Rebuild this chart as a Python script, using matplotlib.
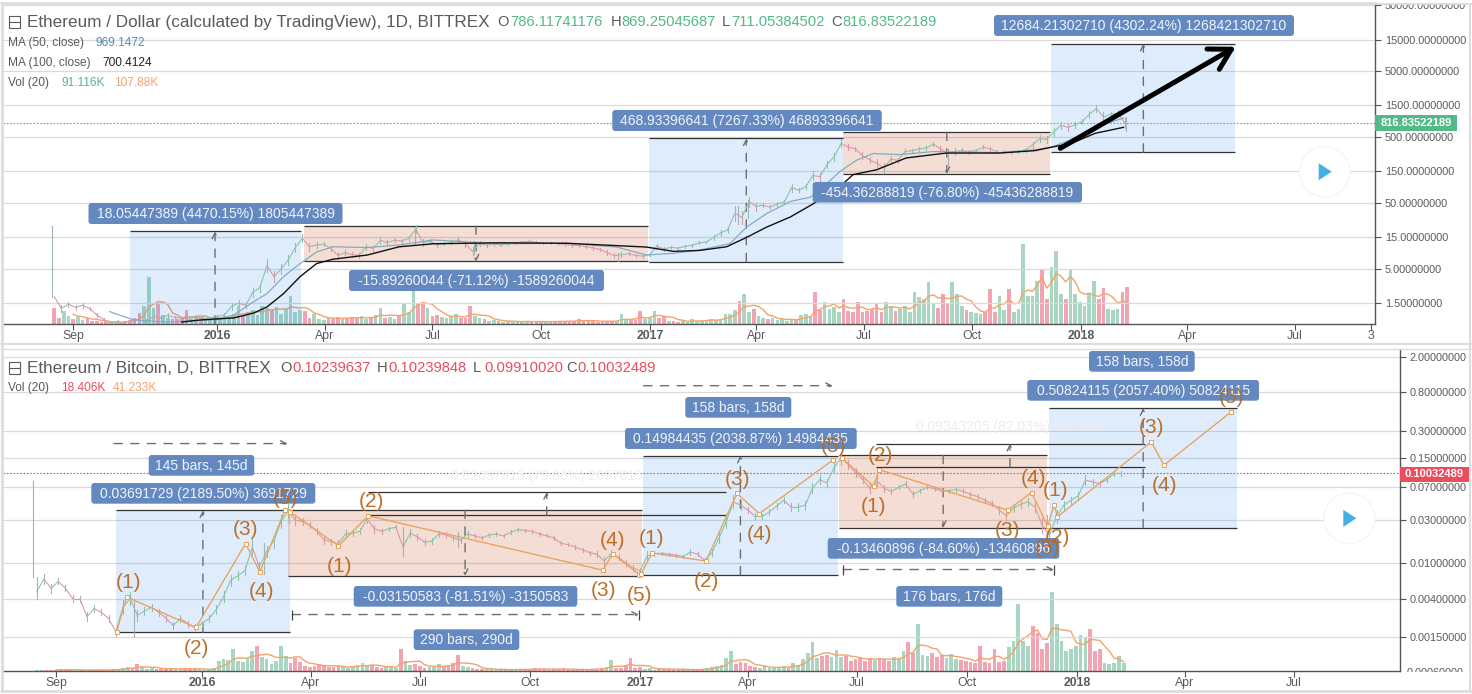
import numpy as np
import matplotlib
matplotlib.use("Agg")
import matplotlib.pyplot as plt
from matplotlib.patches import FancyBboxPatch, Circle, Polygon, Rectangle

plt.rcParams['font.family'] = ['Liberation Sans', 'DejaVu Sans']

W, H = 1472, 694

# ---------- tick data ----------
TOP_XTICKS = [-122, 0, 91, 182, 274, 366, 456, 547, 639, 731, 821, 912, 976]
TOP_XLABELS = ['Sep', '2016', 'Apr', 'Jul', 'Oct', '2017', 'Apr', 'Jul', 'Oct', '2018', 'Apr', 'Jul', '3']
BOT_XTICKS = TOP_XTICKS[:-1]
BOT_XLABELS = TOP_XLABELS[:-1]
TOP_YTICKS = [50000, 15000, 5000, 1500, 500, 150, 50, 15, 5, 1.5]
BOT_YTICKS = [2, 0.8, 0.3, 0.15, 0.07, 0.03, 0.01, 0.004, 0.0015]

# ---------- ETH / USD ----------
usd_close = [
    1.9, 1.25, 1.45, 1.3, 1.4, 1.25, 1.0, 0.85, 0.75, 0.8,
    0.7, 0.68, 0.66, 0.8, 0.95, 0.9, 0.98, 0.92, 0.9, 0.87,
    0.93, 0.88, 0.9, 0.95, 1.0, 1.35, 1.5, 1.4, 2.2, 2.6,
    5.6, 3.8, 5.0, 6.8, 10.5, 14.5, 10.8, 11.5, 11.8, 10.2,
    8.0, 8.8, 8.2, 8.0, 10.8, 10.2, 13.5, 12.5, 13.6, 13.2,
    14.5, 20, 12.5, 13.2, 11.5, 12, 12.6, 13.8, 11.8, 9.2,
    12, 11.4, 11.8, 11.5, 12, 12.3, 12.8, 13, 12.6, 12.2,
    12.4, 12, 11.8, 11.4, 11.3, 10.8, 10.4, 9.8, 8.8, 7.9,
    8.2, 8.5, 8, 7.8, 8.2, 11, 10, 10.6, 10.3, 11,
    11.4, 12.4, 12.8, 15, 17.5, 19.5, 35, 30, 52, 44,
    46, 43, 48, 52, 85, 78, 88, 130, 125, 190,
    250, 400, 350, 330, 260, 225, 200, 170, 230, 220,
    300, 310, 330, 340, 390, 330, 280, 300, 310, 300,
    310, 350, 330, 300, 300, 290, 300, 320, 380, 470,
    460, 600, 750, 700, 760, 850, 1100, 1350, 1000, 1100,
    1150, 820]
# high-to-close ratio of each bar
usd_range = [
    1.10, 1.12, 1.10, 1.08, 1.10, 1.07, 1.08, 1.06, 1.05, 1.05,
    1.05, 1.05, 1.05, 1.08, 1.10, 1.10, 1.08, 1.06, 1.05, 1.05,
    1.06, 1.04, 1.05, 1.05, 1.06, 1.12, 1.12, 1.10, 1.18, 1.15,
    1.25, 1.20, 1.18, 1.20, 1.18, 1.15, 1.14, 1.10, 1.08, 1.10,
    1.12, 1.08, 1.10, 1.08, 1.12, 1.08, 1.12, 1.09, 1.07, 1.06,
    1.08, 1.14, 1.12, 1.08, 1.07, 1.06, 1.07, 1.10, 1.10, 1.15,
    1.10, 1.06, 1.05, 1.05, 1.04, 1.04, 1.05, 1.04, 1.04, 1.04,
    1.04, 1.04, 1.05, 1.05, 1.05, 1.06, 1.06, 1.07, 1.08, 1.10,
    1.08, 1.06, 1.06, 1.07, 1.05, 1.10, 1.08, 1.05, 1.04, 1.05,
    1.05, 1.05, 1.05, 1.08, 1.10, 1.12, 1.30, 1.25, 1.20, 1.15,
    1.08, 1.07, 1.07, 1.08, 1.15, 1.08, 1.10, 1.18, 1.15, 1.14,
    1.15, 1.15, 1.10, 1.08, 1.12, 1.12, 1.15, 1.18, 1.12, 1.08,
    1.10, 1.06, 1.06, 1.08, 1.08, 1.10, 1.18, 1.12, 1.08, 1.07,
    1.06, 1.08, 1.07, 1.06, 1.05, 1.05, 1.06, 1.07, 1.10, 1.14,
    1.12, 1.15, 1.12, 1.12, 1.10, 1.10, 1.14, 1.14, 1.18, 1.10,
    1.10, 1.18]
usd_wick_day = [-140, 167, 217, 339, 441, 449, 564, 618, 769]
usd_wick_lo = [1.9, 12, 8.3, 6.6, 24, 30, 140, 190, 620]
usd_wick_hi = [22, 21, 13, 8.6, 45, 56, 190, 330, 1000]
usd_volume = [
    16, 6, 13, 8, 5, 7, 4, 6, 3, 3,
    2, 2, 1, 2, 2, 3, 4, 6, 11, 18,
    47, 16, 20, 9, 6, 5, 5, 6, 14, 5,
    8, 7, 6, 5, 7, 5, 8, 6, 10, 18,
    8, 12, 14, 9, 18, 16, 14, 17, 10, 16,
    28, 12, 14, 13, 6, 10, 5, 4, 6, 5,
    7, 6, 5, 7, 6, 8, 5, 6, 9, 16,
    6, 7, 5, 8, 20, 12, 33, 20, 22, 16,
    8, 9, 7, 6, 8, 10, 6, 6, 18, 8,
    6, 5, 3, 4, 3, 2, 3, 2, 3, 2,
    3, 2, 2, 3, 2, 3, 2, 3, 3, 3,
    3, 5, 3, 3, 3, 2, 3, 3, 3, 3,
    10, 4, 4, 4, 13, 5, 6, 13, 6, 8,
    3, 3, 2, 3, 2, 5, 3, 3, 4, 5,
    4, 5, 10, 10, 14, 23, 30, 12, 15, 8,
    6, 5, 6, 4, 5, 3, 5, 4, 9, 10,
    8, 32, 14, 22, 15, 17, 12, 25, 13, 12,
    22, 12, 13, 15, 20, 12, 22, 17, 13, 15,
    18, 12, 32, 27, 25, 42, 20, 16, 30, 20,
    42, 30, 18, 14, 12, 11, 10, 12, 35, 12,
    28, 14, 35, 12, 15, 80, 28, 28, 43, 55,
    25, 57, 73, 30, 25, 54, 30, 22, 18, 30,
    43, 25, 36, 15, 14, 15, 32, 37]
ma50_day = [-91, -71, -43, 0, 14, 31, 42, 56, 70, 84, 98, 127, 154, 183, 239, 296, 338, 363, 386, 408, 434,
            448, 465, 485, 502, 516, 527, 541, 555, 578, 606, 662, 692, 706, 723, 743, 767]
ma50_val = [1.12, 0.84, 0.78, 0.85, 1.0, 1.6, 2.1, 3.8, 6, 9, 10.8, 10.5, 11.5, 13.7, 12, 12.2, 10.7, 8.1, 8.6, 9.6, 12.1,
            21.5, 34.5, 52.6, 61, 99, 150, 222, 280, 270, 300, 290, 320, 350, 456, 700, 969]
ma100_day = [-30, -14, 14, 31, 42, 56, 70, 84, 98, 127, 154, 183, 239, 296, 363, 386, 408, 431, 448, 465, 485,
             504, 530, 538, 558, 583, 617, 662, 692, 706, 723, 743, 767]
ma100_val = [0.78, 0.84, 0.9, 1.07, 1.32, 2.1, 3.8, 6, 7, 8.1, 10.8, 12, 12.4, 12.2, 10.7, 9.2, 9.5, 10.8, 15, 21.5, 30.6,
             48, 99, 134, 159, 240, 285, 285, 310, 350, 400, 568, 700]
USD_LAST = 816.83522189

# price-range tools: (start day, end day, low, high)
usd_rise = [(-74.3, 70.4, 0.404, 18.46), (365.6, 529.8, 6.45, 475.4), (705.9, 861.6, 294.8, 12979)]
usd_fall = [(73.4, 364.5, 6.46, 22.35), (529.8, 705, 137.3, 591.6)]

# ---------- ETH / BTC ----------
btc_close = [
    .0048, .0066, .0052, .0062, .0052, .0040, .0040, .0025, .0031, .0028,
    .0024, .0017, .0032, .0040, .0026, .0029, .0032, .0028, .0024, .0020,
    .0024, .0021, .0019, .0021, .0024, .0030, .0042, .0064, .0072, .0082,
    .0150, .0090, .0135, .0175, .0290, .0380, .0300, .0290, .0265, .0225,
    .0180, .0172, .0165, .0210, .0215, .0225, .0310, .0240, .0225, .0240,
    .0250, .0150, .0215, .0195, .0170, .0175, .0210, .0205, .0190, .0180,
    .0210, .0200, .0190, .0205, .0210, .0200, .0220, .0235, .0230, .0225,
    .0210, .0200, .0190, .0165, .0160, .0150, .0140, .0130, .0125, .0105,
    .0127, .0115, .0100, .0088, .0081, .0120, .0127, .0128, .0125, .0122,
    .0118, .0132, .0125, .0107, .0130, .0190, .0290, .0480, .0440, .0390,
    .0330, .0330, .0370, .0430, .0500, .0420, .0420, .0440, .0680, .0850,
    .0780, .1150, .1500, .1250, .1020, .0850, .0680, .0820, .0680, .0625,
    .0700, .0760, .0580, .0640, .0700, .0670, .0630, .0640, .0660, .0630,
    .0580, .0550, .0500, .0460, .0390, .0335, .0410, .0450, .0480, .0420,
    .0260, .0205, .0330, .0440, .0500, .0560, .0840, .0800, .0770, .0850,
    .0990, .1000]
btc_range = [
    1.12, 1.15, 1.12, 1.08, 1.08, 1.10, 1.08, 1.12, 1.10, 1.08,
    1.10, 1.10, 1.20, 1.18, 1.15, 1.12, 1.10, 1.10, 1.10, 1.10,
    1.10, 1.08, 1.08, 1.08, 1.10, 1.12, 1.15, 1.15, 1.12, 1.12,
    1.22, 1.15, 1.15, 1.18, 1.18, 1.18, 1.14, 1.10, 1.08, 1.08,
    1.10, 1.08, 1.08, 1.10, 1.08, 1.08, 1.12, 1.10, 1.06, 1.06,
    1.06, 1.25, 1.10, 1.08, 1.08, 1.07, 1.08, 1.08, 1.07, 1.07,
    1.08, 1.05, 1.05, 1.05, 1.04, 1.04, 1.05, 1.04, 1.04, 1.04,
    1.04, 1.04, 1.05, 1.05, 1.05, 1.05, 1.05, 1.05, 1.08, 1.10,
    1.10, 1.08, 1.08, 1.08, 1.08, 1.12, 1.06, 1.04, 1.04, 1.04,
    1.05, 1.08, 1.05, 1.06, 1.10, 1.15, 1.18, 1.18, 1.14, 1.08,
    1.08, 1.06, 1.08, 1.08, 1.08, 1.10, 1.10, 1.12, 1.14, 1.12,
    1.10, 1.14, 1.12, 1.12, 1.12, 1.10, 1.12, 1.15, 1.10, 1.06,
    1.05, 1.08, 1.08, 1.05, 1.05, 1.05, 1.05, 1.05, 1.06, 1.05,
    1.06, 1.06, 1.07, 1.08, 1.10, 1.12, 1.12, 1.10, 1.10, 1.14,
    1.22, 1.22, 1.18, 1.12, 1.10, 1.10, 1.14, 1.08, 1.06, 1.05,
    1.06, 1.06]
btc_wick_day = [-141, -138, -57, 52, 73, 168, 214, 534, 706]
btc_wick_lo = [.0070, .0040, .0015, .0075, .028, .013, .015, .125, .0245]
btc_wick_hi = [.082, .0070, .0040, .0165, .040, .025, .022, .157, .034]
btc_volume = [
    1, 1, 1, 1, 1, 2, 1, 1, 1, 1,
    1, 1, 1, 1, 1, 1, 2, 2, 3, 4,
    3, 7, 4, 2, 3, 2, 2, 3, 2, 2,
    2, 3, 2, 2, 2, 1, 1, 3, 10, 12,
    11, 22, 10, 9, 13, 20, 25, 14, 12, 7,
    10, 25, 15, 8, 13, 9, 5, 4, 5, 7,
    6, 4, 4, 5, 4, 3, 5, 6, 8, 5,
    6, 4, 3, 4, 5, 3, 22, 10, 6, 7,
    5, 3, 4, 4, 7, 5, 6, 8, 16, 5,
    4, 3, 2, 2, 2, 2, 1, 1, 2, 1,
    2, 2, 1, 2, 3, 2, 2, 1, 2, 2,
    3, 1, 1, 1, 2, 2, 2, 2, 3, 4,
    11, 3, 3, 5, 13, 3, 4, 2, 3, 1,
    2, 2, 2, 2, 1, 2, 1, 1, 2, 2,
    3, 4, 5, 6, 13, 20, 7, 9, 8, 5,
    4, 3, 5, 3, 3, 4, 5, 4, 8, 5,
    12, 18, 29, 13, 15, 16, 14, 21, 14, 15,
    10, 12, 14, 10, 13, 11, 13, 12, 10, 14,
    12, 20, 29, 18, 47, 16, 15, 18, 14, 16,
    13, 17, 12, 11, 10, 9, 8, 25, 9, 8,
    22, 9, 10, 24, 30, 67, 30, 25, 45, 38,
    22, 28, 79, 47, 30, 20, 22, 25, 36, 33,
    42, 20, 22, 8, 7, 8, 15, 8]
BTC_LAST = 0.10032489

wave_a_day = [-71.3, -63, -5, 36.4, 48.4, 69.3]
wave_a_val = [.00170, .00417, .00190, .0164, .00794, .0387]
wave_b_day = [73.5, 114, 139, 335, 343, 365.4]
wave_b_val = [.0371, .0155, .0335, .00828, .0127, .00741]
wave_c_day = [367, 376, 421, 447, 465.6, 527.5]
wave_c_val = [.00760, .0129, .0105, .0595, .0355, .142]
wave_d_day = [534.4, 561, 565.6, 673, 693, 706.5]
wave_d_val = [.149, .0716, .110, .0387, .0610, .0257]
wave_e_day = [706.5, 712, 714.6, 793, 803.7, 859.6]
wave_e_val = [.0257, .0448, .0326, .224, .123, .484]

btc_rise = [(-72.2, 73.8, .001686, .0386), (368.6, 531, .00735, .1572), (708, 864.5, .0247, .533)]
btc_fall = [(72.2, 367.4, .00714, .03864), (532.4, 706, .0245, .1591)]
# faded price-range tools: (start day, end day, low, high, arrow day)
btc_ghost = [(139, 438, .0341, .062, 288), (563, 788, .118, .2135, 675)]
# date-range tools: (start day, end day, level, has end bars)
btc_spans = [(-73.5, 71.6, .2147, False), (369, 527, .95, False), (75.4, 365, .00265, True), (535.7, 711.7, .00843, True)]

# ---------- text ----------
top_pills = [("18.05447389 (4470.15%) 1805447389", 88.5, 342.5, 203, 224),
             ("-15.89260044 (-71.12%) -1589260044", 349, 604, 270, 291),
             ("468.93396641 (7267.33%) 46893396641", 612.3, 881.7, 110, 131),
             ("-454.36288819 (-76.80%) -45436288819", 812.7, 1082, 182, 202.5),
             ("12684.21302710 (4302.24%) 1268421302710", 994, 1294, 15, 36)]
bot_pills = [("145 bars, 145d", 148.7, 254.3, 455, 475.7),
             ("0.03691729 (2189.50%) 3691729", 91.3, 315.3, 483, 503.7),
             ("-0.03150583 (-81.51%) -3150583", 353.7, 577.3, 586, 606.7),
             ("290 bars, 290d", 413.7, 519.3, 629.3, 650),
             ("158 bars, 158d", 685.3, 791.3, 397, 417.7),
             ("0.14984435 (2038.87%) 14984435", 625, 856.7, 428, 449),
             ("-0.13460896 (-84.60%) -13460896", 827.7, 1059.3, 538, 558.7),
             ("176 bars, 176d", 896.3, 1002.3, 586, 606.7),
             ("158 bars, 158d", 1089, 1194.7, 351, 371.7),
             ("0.50824115 (2057.40%) 50824115", 1027.3, 1259, 380, 400.7)]
wave_labels = [("(1)", 128.3, 582.3), ("(2)", 196, 648.3), ("(3)", 246, 529.3), ("(4)", 261, 591.7), ("(5)", 285, 498.3),
               ("(1)", 339, 566.7), ("(2)", 371, 501.7), ("(3)", 604, 590.7), ("(4)", 612.7, 540), ("(5)", 639, 595.7),
               ("(1)", 652, 539), ("(2)", 706, 581.7), ("(3)", 737, 479), ("(4)", 760, 535), ("(5)", 834, 446.7),
               ("(1)", 874, 506.7), ("(2)", 880, 455.7), ("(3)", 1008, 531), ("(4)", 1033, 478.3), ("(5)", 1048, 548.3),
               ("(2)", 1057.7, 537.7), ("(1)", 1055.3, 490.7), ("(3)", 1152, 427.3), ("(4)", 1164.7, 485.7), ("(5)", 1232, 397.3)]

# ---------- colours ----------
C_UP, C_DN = '#8CC4AA', '#DB9AA8'
C_VUP, C_VDN = '#A9D6C0', '#F3A4B2'
C_GRID = '#DADADA'
C_TEXT = '#5A5A5A'
C_AX = '#555555'
C_GREEN = '#53B987'
C_RED = '#EB4D5C'
C_PILL = '#6489C0'
C_WAVE = '#B8691F'
C_WLINE = '#E8A25A'
C_TOOL = '#333333'
C_DASH = '#6E6E6E'
DASH = (0, (6, 6))

fig = plt.figure(figsize=(W / 100, H / 100), dpi=100, facecolor='white')


def axes_px(l, r, t, b, **kw):
    return fig.add_axes([l / W, 1 - b / H, (r - l) / W, (b - t) / H], **kw)


def build_panel(box, xlim, ylim, xt, xl, yt, close, rng, volume, wick_d, wick_lo, wick_hi, last, last_col, vmax):
    vax = axes_px(*box, zorder=0)
    vax.set_xlim(*xlim)
    vax.set_ylim(0, vmax)
    vax.axis('off')
    ax = axes_px(*box, zorder=1)
    ax.patch.set_visible(False)
    ax.set_xlim(*xlim)
    ax.set_yscale('log')
    ax.set_ylim(*ylim)
    ax.yaxis.tick_right()
    ax.set_yticks(yt)
    ax.set_yticklabels([f"{v:.8f}" for v in yt])
    ax.minorticks_off()
    ax.set_xticks(xt)
    ax.set_xticklabels(xl)
    ax.tick_params(axis='y', length=4, width=0.8, color=C_AX, labelcolor=C_TEXT, labelsize=7.85, pad=3)
    ax.tick_params(axis='x', length=4, width=0.8, color=C_AX, labelcolor=C_TEXT, labelsize=8.8, pad=0.5)
    for lab in ax.get_xticklabels():
        if lab.get_text().isdigit() and len(lab.get_text()) == 4:
            lab.set_fontweight('bold')
    for s in ('top', 'left'):
        ax.spines[s].set_visible(False)
    for s in ('bottom', 'right'):
        ax.spines[s].set_color(C_AX)
        ax.spines[s].set_linewidth(1.0)
    ax.yaxis.grid(True, color=C_GRID, lw=0.9, zorder=0.5)
    ax.xaxis.grid(False)
    ax.set_axisbelow(True)

    pdays = -138 + 6 * np.arange(len(close))
    pvals = np.array(close, float)
    prng = np.array(rng, float)
    for i in range(len(pvals) - 1):
        col = C_UP if pvals[i + 1] >= pvals[i] else C_DN
        ax.plot(pdays[i:i + 2], pvals[i:i + 2], color=col, lw=0.8, zorder=3, solid_capstyle='round')
        ax.plot([pdays[i + 1]] * 2, [pvals[i + 1] / prng[i + 1], pvals[i + 1] * prng[i + 1]], color=col, lw=0.75, zorder=3)
    for d, lo, hi in zip(wick_d, wick_lo, wick_hi):
        ax.plot([d, d], [lo, hi], color='#9FB6B8', lw=0.8, zorder=3)

    vdays = -138 + 4 * np.arange(len(volume))
    vvals = np.array(volume, float)
    idx = np.clip(np.searchsorted(pdays, vdays), 1, len(pvals) - 1)
    cols = [C_VUP if pvals[j] >= pvals[j - 1] else C_VDN for j in idx]
    vax.bar(vdays, vvals, width=3.1, color=cols, linewidth=0)
    ma = np.convolve(vvals, np.ones(5) / 5, mode='valid')
    vax.plot(vdays[4:], ma, color='#F5A26A', lw=1.0)

    ax.plot(xlim, [last, last], color=last_col, lw=0.8, ls=(0, (1.5, 1.5)), zorder=2)
    return ax


def price_tool(ax, tool, fill, alpha, up):
    d0, d1, lo, hi = tool
    ax.fill_between([d0, d1], [lo, lo], [hi, hi], color=fill, alpha=alpha, lw=0, zorder=1)
    ax.hlines([lo, hi], d0, d1, color=C_TOOL, lw=0.9, zorder=2)
    mid = (d0 + d1) / 2
    start = max(lo, ax.get_ylim()[0])
    a, b = (start, hi) if up else (hi, start)
    ax.annotate('', xy=(mid, b), xytext=(mid, a),
                arrowprops=dict(arrowstyle='->', ls=DASH, color=C_DASH, lw=1.0,
                                shrinkA=0, shrinkB=0, mutation_scale=10), zorder=2.5)


BLUE, RED = '#2E8BEA', '#C4582F'

# ---------- top panel ----------
ax1 = build_panel((3, 1375, 4, 324), (-181.4, 979.8), (0.728, 51900), TOP_XTICKS, TOP_XLABELS, TOP_YTICKS,
                  usd_close, usd_range, usd_volume, usd_wick_day, usd_wick_lo, usd_wick_hi, USD_LAST, C_GREEN, 320)
for t in usd_rise:
    price_tool(ax1, t, BLUE, 0.155, True)
for t in usd_fall:
    price_tool(ax1, t, RED, 0.2, False)
ax1.plot(ma50_day, ma50_val, color='#7FA9C4', lw=0.85, zorder=4)
ax1.plot(ma100_day, ma100_val, color='#111111', lw=1.0, zorder=4)

# ---------- bottom panel ----------
ax2 = build_panel((3, 1399.5, 349, 671), (-166.2, 1000.4), (0.000621, 2.44), BOT_XTICKS, BOT_XLABELS, BOT_YTICKS,
                  btc_close, btc_range, btc_volume, btc_wick_day, btc_wick_lo, btc_wick_hi, BTC_LAST, C_RED, 322)
for t in btc_rise:
    price_tool(ax2, t, BLUE, 0.155, True)
for t in btc_fall:
    price_tool(ax2, t, RED, 0.2, False)
for d0, d1, lo, hi, arrow_d in btc_ghost:
    ax2.hlines([lo, hi], d0, d1, color=C_TOOL, lw=0.9, zorder=2)
    ax2.annotate('', xy=(arrow_d, hi), xytext=(arrow_d, lo),
                 arrowprops=dict(arrowstyle='->', ls=DASH, color=C_DASH, lw=1.0,
                                 shrinkA=0, shrinkB=0, mutation_scale=10), zorder=2.5)
for d0, d1, lev, bars in btc_spans:
    ax2.annotate('', xy=(d1, lev), xytext=(d0, lev),
                 arrowprops=dict(arrowstyle='->', ls=DASH, color=C_DASH, lw=1.0,
                                 shrinkA=0, shrinkB=0, mutation_scale=10), zorder=2.5)
    if bars:
        ax2.plot([d0, d1], [lev, lev], ls='none', marker='|', ms=7, mew=0.9, color='#444444', zorder=2.5)
for dd, vv in [(wave_a_day, wave_a_val), (wave_b_day, wave_b_val), (wave_c_day, wave_c_val),
               (wave_d_day, wave_d_val), (wave_e_day, wave_e_val)]:
    ax2.plot(dd, vv, color=C_WLINE, lw=0.95, marker='s', ms=2.3, mfc='white', mec=C_WLINE, mew=0.7, zorder=5)

# ---------- overlay in pixel space ----------
ov = fig.add_axes([0, 0, 1, 1], zorder=5)
ov.patch.set_visible(False)
ov.set_xlim(0, W)
ov.set_ylim(H, 0)
ov.axis('off')

# clip the cut-off axis labels
ov.text(1406.3, 672.5, "0.00060000", color=C_TEXT, fontsize=7.85, va='center', ha='left', zorder=1)
ov.add_patch(Rectangle((1400.5, 671.5), 68, 8, fc='white', ec='none', zorder=2))
ov.add_patch(Rectangle((1376, 0), 96, 2.6, fc='white', ec='none', zorder=2))

# frame
for xs, ys, lw in [((0, W), (3, 3), 2.0), ((0, W), (343.5, 343.5), 1.6), ((0, W), (348.5, 348.5), 1.0),
                   ((0, W), (690.5, 690.5), 2.0), ((2, 2), (3, 690), 2.0), ((1470, 1470), (3, 690), 1.6)]:
    ov.plot(xs, ys, color='#DDDDDD', lw=lw, zorder=1, solid_capstyle='butt')


def pills(items):
    for txt, x0, x1, y0, y1 in items:
        ov.add_patch(FancyBboxPatch((x0, y0), x1 - x0, y1 - y0, boxstyle='round,pad=0,rounding_size=3',
                                    fc=C_PILL, ec='none', zorder=6))
        ov.text((x0 + x1) / 2, (y0 + y1) / 2 + 0.3, txt, color='#F0F4FA', fontsize=10, ha='center', va='center', zorder=7)


pills(top_pills)
pills(bot_pills)

for txt, x, y in wave_labels:
    ov.text(x, y, txt, color=C_WAVE, fontsize=15, ha='center', va='center', alpha=0.95, zorder=8)

# faded tool captions
ov.text(547, 476, "0.02097815 (79.06%) 2097815", color='#EFEFEF', fontsize=10, ha='center', va='center', zorder=1)
ov.text(1012, 426.7, "0.09343205 (82.03%) 9343205", color='#EDEDED', fontsize=10, ha='center', va='center', zorder=1)

# big arrow
for xs, ys in [((1060.3, 1231.3), (148.3, 49.3)), ((1207, 1231.3), (49, 49.3)), ((1219.3, 1231.3), (69.3, 49.3))]:
    ov.plot(xs, ys, color='black', lw=3.6, solid_capstyle='round', zorder=5)


def label(x, y, s, col, size=8.6, weight='normal'):
    ov.text(x, y, s, color=col, fontsize=size, ha='left', va='center', fontweight=weight, zorder=9)


def icon(y):
    ov.add_patch(Rectangle((8.5, y - 5.7), 11.5, 11.4, fc='white', ec=C_TEXT, lw=0.8, zorder=9))
    ov.plot([8.5, 20], [y, y], color=C_TEXT, lw=0.8, zorder=9)


TITLE = 12.3
OHLC = 10.6
icon(22)
label(27, 22.3, "Ethereum / Dollar (calculated by TradingView), 1D, BITTREX", C_TEXT, TITLE)
for x, s in [(497, "O"), (610.7, "H"), (722, "L"), (831.7, "C")]:
    label(x, 22.3, s, C_TEXT, OHLC)
for x, s in [(510, "786.11741176"), (621.7, "869.25045687"), (731.7, "711.05384502"), (842.3, "816.83522189")]:
    label(x, 22.3, s, C_GREEN, OHLC)
label(8, 42.7, "MA (50, close)", C_TEXT)
label(96, 42.7, "969.1472", '#4C8DB8')
label(8, 62.7, "MA (100, close)", C_TEXT)
label(102, 62.7, "700.4124", '#222222')
label(8, 82.7, "Vol (20)", C_TEXT)
label(61, 82.7, "91.116K", C_GREEN)
label(114, 82.7, "107.88K", '#F5A26A')

icon(368)
label(27, 368.3, "Ethereum / Bitcoin, D, BITTREX", C_TEXT, TITLE)
for x, s in [(280, "O"), (376.7, "H"), (472.7, "L"), (566.7, "C")]:
    label(x, 368.3, s, C_TEXT, OHLC)
for x, s in [(292, "0.10239637"), (388, "0.10239848"), (484, "0.09910020"), (577.3, "0.10032489")]:
    label(x, 368.3, s, C_RED, OHLC)
label(8, 388.3, "Vol (20)", C_TEXT)
label(61, 388.3, "18.406K", C_RED)
label(113, 388.3, "41.233K", '#F5A26A')

# last-price tags
ov.add_patch(Rectangle((1375, 115), 82, 15.5, fc=C_GREEN, ec='none', zorder=6))
ov.text(1416, 122.9, "816.83522189", color='white', fontsize=8.0, fontweight='bold', ha='center', va='center', zorder=7)
ov.add_patch(Rectangle((1399.5, 466.5), 69.5, 15.5, fc=C_RED, ec='none', zorder=6))
ov.text(1434, 474.3, "0.10032489", color='white', fontsize=8.0, fontweight='bold', ha='center', va='center', zorder=7)

# play buttons
for cx, cy in [(1324.7, 171.7), (1349.3, 518.3)]:
    ov.add_patch(Circle((cx, cy), 26, fc='#F6F6F6', ec='none', zorder=5))
    ov.add_patch(Circle((cx, cy), 24.5, fc='white', ec='none', zorder=5.1))
    ov.add_patch(Polygon([(cx - 6, cy - 8.5), (cx - 6, cy + 8.5), (cx + 7, cy)], closed=True, fc='#41B0E4', ec='none', zorder=5.2))

fig.savefig('out.png', dpi=100, facecolor='white')
